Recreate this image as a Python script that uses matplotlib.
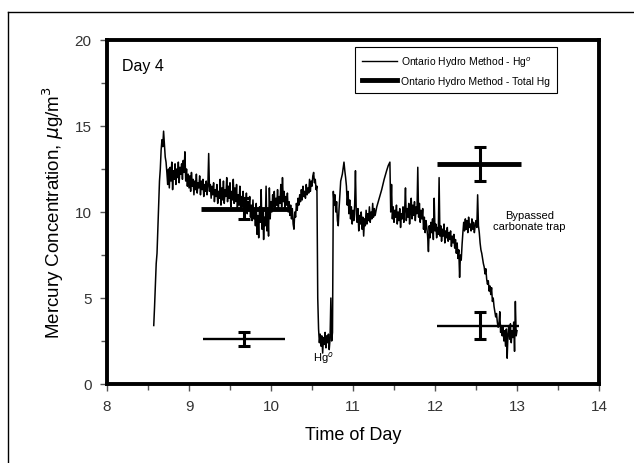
import matplotlib
matplotlib.use("Agg")
import matplotlib.pyplot as plt
from matplotlib.lines import Line2D

plt.rcParams['font.family'] = ['Liberation Sans', 'DejaVu Sans']

# Continuous Hg0 trace (time of day, ug/m3)
trace_t = [8.57, 8.58, 8.59, 8.60, 8.61, 8.62, 8.63, 8.64, 8.65, 8.66, 8.67, 8.68, 8.69, 8.70, 8.71, 8.72, 8.73, 8.74, 8.75, 8.76,
           8.77, 8.78, 8.79, 8.80, 8.81, 8.82, 8.83, 8.84, 8.85, 8.86, 8.87, 8.88, 8.89, 8.90, 8.91, 8.92, 8.93, 8.94, 8.95, 8.96,
           8.97, 8.98, 8.99, 9.00, 9.01, 9.02, 9.03, 9.04, 9.05, 9.06, 9.07, 9.08, 9.09, 9.10, 9.11, 9.12, 9.13, 9.14, 9.15, 9.16,
           9.17, 9.18, 9.19, 9.20, 9.21, 9.22, 9.23, 9.24, 9.25, 9.26, 9.27, 9.28, 9.29, 9.30, 9.31, 9.32, 9.33, 9.34, 9.35, 9.36,
           9.37, 9.38, 9.39, 9.40, 9.41, 9.42, 9.43, 9.44, 9.45, 9.46, 9.47, 9.48, 9.49, 9.50, 9.51, 9.52, 9.53, 9.54, 9.55, 9.56,
           9.57, 9.58, 9.59, 9.60, 9.61, 9.62, 9.63, 9.64, 9.65, 9.66, 9.67, 9.68, 9.69, 9.70, 9.71, 9.72, 9.73, 9.74, 9.75, 9.76,
           9.77, 9.78, 9.79, 9.80, 9.81, 9.82, 9.83, 9.84, 9.85, 9.86, 9.87, 9.88, 9.89, 9.90, 9.91, 9.92, 9.93, 9.94, 9.95, 9.96,
           9.97, 9.98, 9.99, 10.00, 10.01, 10.02, 10.03, 10.04, 10.05, 10.06, 10.07, 10.08, 10.09, 10.10, 10.11, 10.12, 10.13, 10.14, 10.15, 10.16,
           10.17, 10.18, 10.19, 10.20, 10.21, 10.22, 10.23, 10.24, 10.25, 10.26, 10.27, 10.28, 10.29, 10.30, 10.31, 10.32, 10.33, 10.34, 10.35, 10.36,
           10.37, 10.38, 10.39, 10.40, 10.41, 10.42, 10.43, 10.44, 10.45, 10.46, 10.47, 10.48, 10.49, 10.50, 10.51, 10.52, 10.53, 10.54, 10.55, 10.56,
           10.57, 10.58, 10.59, 10.60, 10.61, 10.62, 10.63, 10.64, 10.65, 10.66, 10.67, 10.68, 10.69, 10.70, 10.71, 10.72, 10.73, 10.74, 10.75, 10.76,
           10.77, 10.78, 10.79, 10.80, 10.81, 10.82, 10.83, 10.85, 10.87, 10.89, 10.90, 10.91, 10.92, 10.93, 10.94, 10.95, 10.96, 10.97, 10.98, 10.99,
           11.00, 11.01, 11.02, 11.03, 11.04, 11.05, 11.06, 11.07, 11.08, 11.09, 11.10, 11.11, 11.12, 11.13, 11.14, 11.15, 11.16, 11.17, 11.18, 11.19,
           11.20, 11.21, 11.22, 11.23, 11.24, 11.25, 11.26, 11.27, 11.29, 11.32, 11.35, 11.38, 11.41, 11.43, 11.45, 11.46, 11.47, 11.48, 11.49, 11.50,
           11.51, 11.52, 11.53, 11.54, 11.55, 11.56, 11.57, 11.58, 11.59, 11.60, 11.61, 11.62, 11.63, 11.64, 11.65, 11.66, 11.67, 11.68, 11.69, 11.70,
           11.71, 11.72, 11.73, 11.74, 11.75, 11.76, 11.77, 11.78, 11.79, 11.80, 11.81, 11.82, 11.83, 11.84, 11.85, 11.86, 11.87, 11.88, 11.89, 11.90,
           11.91, 11.92, 11.93, 11.94, 11.95, 11.96, 11.97, 11.98, 11.99, 12.00, 12.01, 12.02, 12.03, 12.04, 12.05, 12.06, 12.07, 12.08, 12.09, 12.10,
           12.11, 12.12, 12.13, 12.14, 12.15, 12.16, 12.17, 12.18, 12.19, 12.20, 12.21, 12.22, 12.23, 12.24, 12.25, 12.26, 12.27, 12.28, 12.29, 12.30,
           12.31, 12.32, 12.33, 12.34, 12.35, 12.36, 12.37, 12.38, 12.39, 12.40, 12.41, 12.42, 12.43, 12.44, 12.45, 12.46, 12.47, 12.48, 12.49, 12.50,
           12.51, 12.52, 12.53, 12.54, 12.55, 12.56, 12.57, 12.58, 12.59, 12.60, 12.61, 12.62, 12.63, 12.64, 12.65, 12.66, 12.67, 12.68, 12.69, 12.70,
           12.71, 12.72, 12.73, 12.74, 12.75, 12.76, 12.77, 12.78, 12.79, 12.80, 12.81, 12.82, 12.83, 12.84, 12.85, 12.86, 12.87, 12.88, 12.89, 12.90,
           12.91, 12.92, 12.93, 12.94, 12.95, 12.96, 12.97, 12.98, 12.99, 13.00]
trace_v = [3.4, 4.5, 5.8, 7.0, 7.6, 9.0, 10.5, 11.8, 12.5, 13.6, 14.2, 13.8, 14.7, 13.9, 13.2, 12.9, 12.3, 11.6, 12.5, 11.4,
           12.6, 11.8, 12.9, 11.3, 12.4, 11.9, 12.8, 11.6, 12.5, 12.0, 12.9, 11.7, 12.6, 12.2, 12.8, 11.9, 13.0, 12.3, 13.5, 11.8,
           12.5, 11.5, 12.2, 11.4, 12.1, 11.2, 12.3, 11.5, 11.9, 11.0, 11.8, 11.3, 12.2, 11.1, 11.7, 11.4, 12.1, 11.0, 11.8, 11.3,
           11.9, 10.9, 11.6, 11.2, 11.8, 11.0, 11.5, 13.4, 11.2, 11.6, 10.8, 11.5, 11.0, 11.7, 10.6, 11.3, 10.9, 11.6, 10.5, 11.2,
           10.8, 11.9, 10.4, 11.4, 10.7, 11.8, 10.5, 11.3, 10.9, 12.0, 10.6, 11.5, 10.8, 11.7, 10.3, 11.2, 10.7, 11.9, 10.5, 11.4,
           10.6, 11.6, 10.2, 11.0, 10.4, 11.5, 10.1, 10.9, 10.3, 11.2, 10.0, 10.8, 10.2, 11.1, 9.9, 10.6, 10.1, 10.9, 9.7, 10.4,
           9.5, 10.7, 9.6, 10.2, 9.2, 10.5, 8.7, 9.8, 8.5, 10.3, 9.4, 11.3, 9.0, 10.1, 8.4, 9.7, 9.2, 11.5, 8.9, 10.2,
           8.6, 11.4, 9.6, 10.6, 10.0, 11.0, 10.3, 11.2, 10.1, 10.8, 10.4, 11.3, 10.2, 10.9, 10.5, 11.6, 10.3, 12.0, 10.6, 11.2,
           10.2, 10.9, 10.4, 11.1, 10.0, 10.6, 9.8, 10.4, 9.6, 10.2, 9.3, 9.0, 10.0, 9.7, 10.5, 10.1, 10.8, 10.4, 11.0, 10.6,
           11.3, 10.7, 11.5, 10.9, 11.2, 10.8, 11.6, 11.0, 11.4, 11.1, 11.9, 11.2, 11.8, 11.5, 12.1, 12.3, 11.7, 11.9, 11.3, 11.5,
           5.0, 3.2, 2.4, 2.9, 2.2, 2.8, 1.8, 2.7, 2.3, 3.0, 2.1, 2.8, 2.4, 2.9, 2.0, 2.6, 5.0, 2.5, 3.0, 11.2,
           10.4, 11.0, 10.0, 10.6, 9.5, 9.2, 10.2, 11.8, 12.2, 12.9, 12.4, 12.0, 11.5, 10.4, 11.2, 9.9, 10.7, 9.6, 10.3, 9.3,
           10.1, 9.5, 10.4, 12.4, 9.9, 9.4, 10.2, 8.9, 9.8, 9.3, 10.0, 9.0, 9.7, 8.6, 9.6, 9.2, 10.1, 9.3, 9.9, 9.5,
           10.3, 9.4, 10.0, 9.6, 10.5, 9.7, 10.2, 9.8, 10.3, 10.8, 11.3, 11.9, 12.4, 12.7, 12.9, 10.0, 11.6, 9.6, 10.3, 9.4,
           10.1, 9.7, 10.4, 9.3, 10.0, 9.5, 10.2, 9.1, 9.9, 9.6, 10.3, 9.4, 10.1, 11.4, 9.5, 10.2, 9.7, 10.5, 9.3, 10.0,
           10.8, 9.6, 10.4, 9.8, 10.6, 9.5, 10.3, 9.9, 12.6, 9.7, 10.5, 9.4, 10.1, 9.6, 10.2, 9.0, 9.7, 8.8, 9.5, 9.1,
           8.6, 7.7, 9.2, 8.5, 9.4, 8.8, 9.6, 8.4, 10.8, 8.9, 9.3, 8.5, 9.1, 8.7, 12.0, 8.6, 9.2, 8.3, 9.0, 8.6,
           9.3, 8.2, 8.9, 8.5, 9.1, 8.3, 8.8, 8.4, 8.9, 8.0, 8.6, 8.2, 8.7, 7.9, 8.4, 7.6, 8.2, 7.3, 7.8, 6.2,
           7.5, 7.2, 8.1, 8.8, 9.4, 8.9, 9.6, 9.0, 9.5, 8.8, 9.7, 9.1, 9.3, 8.9, 9.6, 9.0, 9.4, 8.8, 9.2, 9.5,
           9.1, 11.0, 9.2, 8.8, 8.2, 7.8, 7.6, 7.3, 7.0, 6.8, 6.4, 6.7, 6.1, 5.8, 6.0, 5.4, 5.7, 5.2, 5.6, 4.8,
           5.0, 4.5, 4.2, 3.9, 4.1, 3.6, 3.3, 3.5, 4.2, 3.0, 3.4, 2.8, 3.3, 2.5, 3.1, 2.2, 3.2, 1.5, 2.9, 3.4,
           2.6, 3.5, 2.4, 3.1, 2.7, 3.6, 1.9, 4.8, 2.8, 3.1]

# Ontario Hydro Method - Total Hg (thick bars)
total_x = [9.67, 12.55]
total_y = [10.2, 12.8]
total_xerr_lo = [0.52, 0.53]
total_xerr_hi = [0.53, 0.5]
total_yerr = [0.6, 1.0]

# Ontario Hydro Method - Hg0 (thin bars)
hg0_x = [9.67, 12.55]
hg0_y = [2.6, 3.4]
hg0_xerr_lo = [0.5, 0.53]
hg0_xerr_hi = [0.5, 0.47]
hg0_yerr = [0.4, 0.8]

fig = plt.figure(figsize=(6.34, 4.64), dpi=100)
ax = fig.add_axes([107/634, 1-385/464, 492/634, 344/464])

ax.plot(trace_t, trace_v, color='black', lw=1.1, zorder=2)

for x, y, xl, xh, ye in zip(total_x, total_y, total_xerr_lo, total_xerr_hi, total_yerr):
    ax.plot([x - xl, x + xh], [y, y], color='black', lw=3.5, solid_capstyle='butt', zorder=3)
    ax.errorbar([x], [y], yerr=[ye], fmt='none', ecolor='black', elinewidth=2.2,
                capsize=4.5, capthick=2.2, zorder=3)

for x, y, xl, xh, ye in zip(hg0_x, hg0_y, hg0_xerr_lo, hg0_xerr_hi, hg0_yerr):
    ax.plot([x - xl, x + xh], [y, y], color='black', lw=1.7, solid_capstyle='butt', zorder=3)
    ax.errorbar([x], [y], yerr=[ye], fmt='none', ecolor='black', elinewidth=2.2,
                capsize=4.5, capthick=2.2, zorder=3)

ax.set_xlim(8, 14)
ax.set_ylim(0, 20)
ax.set_xticks([8, 9, 10, 11, 12, 13, 14])
ax.set_yticks([0, 5, 10, 15, 20])
ax.set_xticks([8.5, 9.5, 10.5, 11.5, 12.5, 13.5], minor=True)
ax.set_yticks([2.5, 7.5, 12.5, 17.5], minor=True)
ax.tick_params(which='major', direction='out', length=5, width=1, colors='#555555',
               labelcolor='#333333', labelsize=11, pad=6)
ax.tick_params(which='minor', direction='out', length=4, width=1, colors='#555555')
for s in ax.spines.values():
    s.set_linewidth(2.8)
    s.set_color('black')

ax.set_xlabel('Time of Day', fontsize=13, labelpad=9)
ax.set_ylabel('Mercury Concentration, $\\mu$g/m$^3$', fontsize=13.5, labelpad=6)

ax.text(0.03, 0.925, 'Day 4', transform=ax.transAxes, fontsize=11.5, ha='left', va='center')
ax.text(10.64, 1.55, 'Hg$^o$', fontsize=8, ha='center', va='center')
ax.text(13.15, 9.5, 'Bypassed\ncarbonate trap', fontsize=8, ha='center', va='center',
        linespacing=1.15)

handles = [Line2D([], [], color='black', lw=1.0),
           Line2D([], [], color='black', lw=3.5)]
labels = ['Ontario Hydro Method - Hg$^o$', 'Ontario Hydro Method - Total Hg']
leg = ax.legend(handles, labels, loc='upper right', bbox_to_anchor=(0.915, 0.98),
                fontsize=7.5, frameon=True, fancybox=False, edgecolor='black',
                framealpha=1, borderaxespad=0, handlelength=3.3, handletextpad=0.4,
                borderpad=0.7, labelspacing=0.7)
leg.get_frame().set_linewidth(0.8)

# figure frame (top and left edges)
fig.add_artist(Line2D([8/634, 1.0], [1-13/464, 1-13/464], color='black', lw=1.0,
                      transform=fig.transFigure))
fig.add_artist(Line2D([8/634, 8/634], [0.0, 1-13/464], color='black', lw=1.0,
                      transform=fig.transFigure))

fig.savefig('out.png', dpi=100)
